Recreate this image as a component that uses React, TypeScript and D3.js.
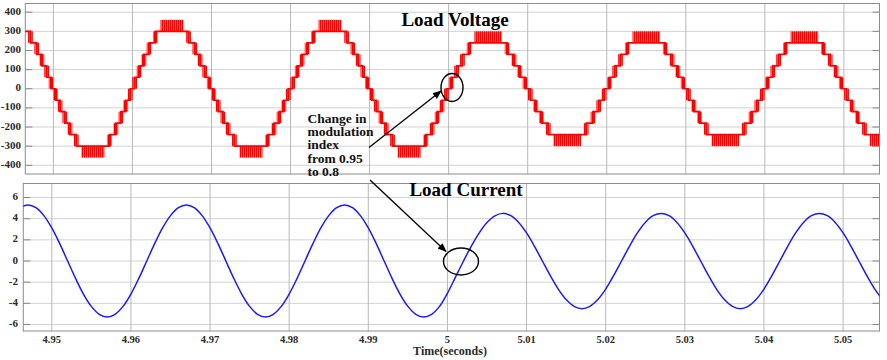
import React from "react";
import * as d3 from "d3";

// ---- load voltage (multilevel inverter output) ----
// half-cycle zero crossings (s), polarity and modulation index in force
const halfStarts = [4.94, 4.95, 4.96, 4.97, 4.98, 4.99, 5.0, 5.01, 5.02, 5.03, 5.04, 5.05];
const halfSigns = [1, -1, 1, -1, 1, -1, 1, -1, 1, -1, 1, -1];
const halfIndex = [0.95, 0.95, 0.95, 0.95, 0.95, 0.95, 0.8, 0.8, 0.8, 0.8, 0.8, 0.8];
const levelStep = 60; // volts per level

// m = 0.95: step instants (ms after zero crossing) and level reached
const stepMs95 = [0.28, 0.85, 1.45, 2.1, 2.9, 7.1, 7.9, 8.55, 9.15, 9.72];
const stepLvl95 = [1, 2, 3, 4, 5, 4, 3, 2, 1, 0];
const peakMs95 = [3.55, 6.45];
const peakLvl95 = [5, 6];

// m = 0.8
const stepMs80 = [0.33, 1.01, 1.74, 2.6, 7.4, 8.26, 8.99, 9.67];
const stepLvl80 = [1, 2, 3, 4, 3, 2, 1, 0];
const peakMs80 = [3.26, 6.74];
const peakLvl80 = [4, 5];

// ---- load current, one sample per ms from 4.946 s ----
const currentStart = 4.946;
const currentValues = [
  5.04, 5.3, 5.04, 4.29, 3.12, 1.64, 0, -1.64, -3.12, -4.29,
  -5.04, -5.3, -5.04, -4.29, -3.12, -1.64, 0, 1.64, 3.12, 4.29,
  5.04, 5.3, 5.04, 4.29, 3.12, 1.64, 0, -1.64, -3.12, -4.29,
  -5.04, -5.3, -5.04, -4.29, -3.12, -1.64, 0, 1.64, 3.12, 4.29,
  5.04, 5.3, 5.04, 4.29, 3.12, 1.64, 0, -1.64, -3.12, -4.29,
  -5.04, -5.3, -5.04, -4.29,
  -3.05, -1.55, -0.05, 1.38, 2.64, 3.63, 4.27, 4.5,
  4.28, 3.64, 2.65, 1.39, 0, -1.39, -2.65, -3.64, -4.28, -4.5,
  -4.28, -3.64, -2.65, -1.39, 0, 1.39, 2.65, 3.64, 4.28, 4.5,
  4.28, 3.64, 2.65, 1.39, 0, -1.39, -2.65, -3.64, -4.28, -4.5,
  -4.28, -3.64, -2.65, -1.39, 0, 1.39, 2.65, 3.64, 4.28, 4.5,
  4.28, 3.64, 2.65, 1.39, 0, -1.39, -2.65, -3.64,
];

const vTicks = [-400, -300, -200, -100, 0, 100, 200, 300, 400];
const iTicks = [-6, -4, -2, 0, 2, 4, 6];
const tTicks = [4.95, 4.96, 4.97, 4.98, 4.99, 5, 5.01, 5.02, 5.03, 5.04, 5.05];
const noteLines = ["Change in", "modulation", "index", "from 0.95", "to 0.8"];

const topBox = { left: 25.3, right: 879.5, top: 3.5, bottom: 174 };
const botBox = { left: 23.3, right: 879.5, top: 183.5, bottom: 331 };

const serif = "'Liberation Serif', 'Times New Roman', serif";

export default function App() {
  const xTop = d3.scaleLinear().domain([4.94645, 5.0545]).range([topBox.left, topBox.right]);
  const xBot = d3.scaleLinear().domain([4.9464, 5.0546]).range([botBox.left, botBox.right]);
  const yV = d3.scaleLinear().domain([-400, 400]).range([165.3, 12.2]);
  const yI = d3.scaleLinear().domain([-6, 6]).range([324.5, 197.5]);

  // build staircase and chatter bands
  const pts: [number, number][] = [];
  const bands: { t0: number; t1: number; v0: number; v1: number }[] = [];
  const half = 0.0003;
  halfStarts.forEach((t0, i) => {
    const s = halfSigns[i];
    const hi = halfIndex[i] > 0.9;
    const ms = hi ? stepMs95 : stepMs80;
    const lv = hi ? stepLvl95 : stepLvl80;
    const pk = hi ? peakMs95 : peakMs80;
    const pl = hi ? peakLvl95 : peakLvl80;
    let prev = 0;
    pts.push([t0, 0]);
    ms.forEach((m, k) => {
      const t = t0 + m / 1000;
      pts.push([t, prev * s * levelStep]);
      pts.push([t, lv[k] * s * levelStep]);
      bands.push({ t0: t - half, t1: t + half, v0: prev * s * levelStep, v1: lv[k] * s * levelStep });
      prev = lv[k];
    });
    pts.push([t0 + 0.01, 0]);
    bands.push({
      t0: t0 + pk[0] / 1000,
      t1: t0 + pk[1] / 1000,
      v0: pl[0] * s * levelStep,
      v1: pl[1] * s * levelStep,
    });
  });

  const vLine = d3
    .line<[number, number]>()
    .x((d) => xTop(d[0]))
    .y((d) => yV(d[1]));

  const iData = currentValues.map((v, k) => [currentStart + k * 0.001, v] as [number, number]);
  const iLine = d3
    .line<[number, number]>()
    .x((d) => xBot(d[0]))
    .y((d) => yI(d[1]))
    .curve(d3.curveCatmullRom);

  const fmt = (d: number) => String(+d.toFixed(2));

  return (
    <div style={{ position: "absolute", left: 0, top: 0 }}>
      <svg width={887} height={360} style={{ display: "block", background: "#fff" }}>
        <defs>
          <clipPath id="clipTop">
            <rect x={topBox.left} y={topBox.top} width={topBox.right - topBox.left} height={topBox.bottom - topBox.top} />
          </clipPath>
          <clipPath id="clipBot">
            <rect x={botBox.left} y={botBox.top} width={botBox.right - botBox.left} height={botBox.bottom - botBox.top} />
          </clipPath>
          <pattern id="pwm" width={2} height={8} patternUnits="userSpaceOnUse">
            <rect width={2} height={8} fill="#ffa0a0" />
            <rect width={1.4} height={8} fill="#ff0000" />
          </pattern>
          <marker id="arr" viewBox="0 0 10 10" refX={9} refY={5} markerWidth={7} markerHeight={7} orient="auto">
            <path d="M0,1 L10,5 L0,9 z" fill="#000" />
          </marker>
        </defs>

        {/* top panel grid */}
        <g>
          {vTicks.map((v) => (
            <g key={"vg" + v}>
              <line x1={topBox.left} x2={topBox.right} y1={yV(v)} y2={yV(v)} stroke="#d2d2d2" />
              <line x1={topBox.left} x2={topBox.left + 7} y1={yV(v)} y2={yV(v)} stroke="#888" />
              <line x1={topBox.right - 7} x2={topBox.right} y1={yV(v)} y2={yV(v)} stroke="#888" />
              <text
                x={21}
                y={yV(v)}
                textAnchor="end"
                dominantBaseline="middle"
                fontFamily={serif}
                fontWeight="bold"
                fontSize={11}
                fill="#2a2a2a"
              >
                {v}
              </text>
            </g>
          ))}
          {tTicks.map((t) => (
            <line key={"tg" + t} x1={xTop(t)} x2={xTop(t)} y1={topBox.top} y2={topBox.bottom} stroke="#b8b8b8" />
          ))}
          <rect
            x={topBox.left}
            y={topBox.top}
            width={topBox.right - topBox.left}
            height={topBox.bottom - topBox.top}
            fill="none"
            stroke="#8c8c8c"
          />
        </g>

        {/* load voltage */}
        <g clipPath="url(#clipTop)">
          {bands.map((b, k) => (
            <rect
              key={"b" + k}
              x={xTop(b.t0)}
              width={xTop(b.t1) - xTop(b.t0)}
              y={Math.min(yV(b.v0), yV(b.v1))}
              height={Math.abs(yV(b.v0) - yV(b.v1))}
              fill="url(#pwm)"
            />
          ))}
          <path d={vLine(pts) ?? ""} fill="none" stroke="#ff0000" strokeWidth={1.7} />
        </g>

        {/* bottom panel grid */}
        <g>
          {iTicks.map((v) => (
            <g key={"ig" + v}>
              <line x1={botBox.left} x2={botBox.right} y1={yI(v)} y2={yI(v)} stroke="#d2d2d2" />
              <line x1={botBox.left} x2={botBox.left + 7} y1={yI(v)} y2={yI(v)} stroke="#888" />
              <line x1={botBox.right - 7} x2={botBox.right} y1={yI(v)} y2={yI(v)} stroke="#888" />
              <text
                x={18}
                y={yI(v)}
                textAnchor="end"
                dominantBaseline="middle"
                fontFamily={serif}
                fontWeight="bold"
                fontSize={11}
                fill="#2a2a2a"
              >
                {v}
              </text>
            </g>
          ))}
          {tTicks.map((t) => (
            <g key={"bt" + t}>
              <line x1={xBot(t)} x2={xBot(t)} y1={botBox.top} y2={botBox.bottom} stroke="#b8b8b8" />
              <text
                x={xBot(t)}
                y={342.5}
                textAnchor="middle"
                fontFamily={serif}
                fontWeight="bold"
                fontSize={10.5}
                fill="#2a2a2a"
              >
                {fmt(t)}
              </text>
            </g>
          ))}
          <rect
            x={botBox.left}
            y={botBox.top}
            width={botBox.right - botBox.left}
            height={botBox.bottom - botBox.top}
            fill="none"
            stroke="#8c8c8c"
          />
        </g>

        {/* load current */}
        <g clipPath="url(#clipBot)">
          <path d={iLine(iData) ?? ""} fill="none" stroke="#1a1aff" strokeWidth={1.5} />
        </g>

        {/* titles */}
        <text x={455} y={25.5} textAnchor="middle" fontFamily={serif} fontWeight="bold" fontSize={19} fill="#000">
          Load Voltage
        </text>
        <text x={466} y={196} textAnchor="middle" fontFamily={serif} fontWeight="bold" fontSize={19} fill="#000">
          Load Current
        </text>
        <text x={450} y={355} textAnchor="middle" fontFamily={serif} fontWeight="bold" fontSize={12} fill="#2a2a2a">
          Time(seconds)
        </text>

        {/* annotation */}
        <text fontFamily={serif} fontWeight="bold" fontSize={13.5} fill="#111">
          {noteLines.map((s, k) => (
            <tspan key={s} x={307.5} y={122.5 + k * 13.4}>
              {s}
            </tspan>
          ))}
        </text>
        <line x1={369} y1={147.5} x2={441} y2={91} stroke="#000" strokeWidth={1.3} markerEnd="url(#arr)" />
        <line x1={370} y1={180} x2={446} y2={251.5} stroke="#000" strokeWidth={1.3} markerEnd="url(#arr)" />
        <ellipse cx={452} cy={87.5} rx={11} ry={14} fill="none" stroke="#000" strokeWidth={1.4} />
        <ellipse cx={461} cy={261.5} rx={17.5} ry={13.5} fill="none" stroke="#000" strokeWidth={1.4} />
      </svg>
    </div>
  );
}
